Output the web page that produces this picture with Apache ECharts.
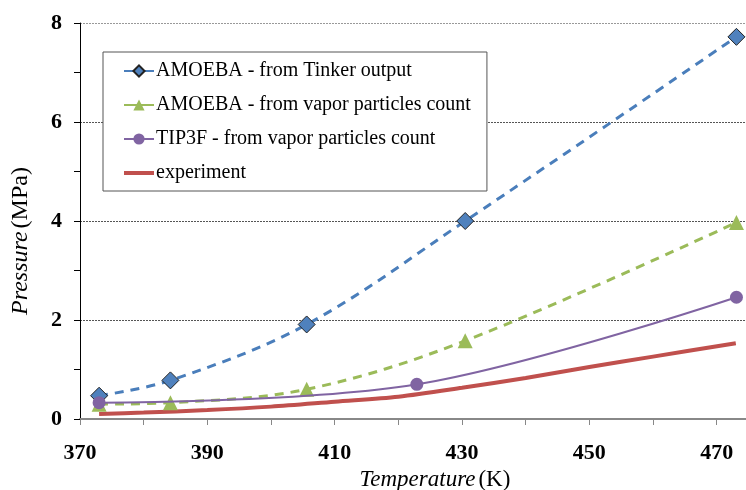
<!DOCTYPE html>
<html>
<head>
<meta charset="utf-8">
<script src="https://cdn.jsdelivr.net/npm/echarts@6/dist/echarts.min.js"></script>
<style>
  html, body { margin: 0; padding: 0; background: #fff; }
  #chart { width: 746px; height: 490px; }
</style>
</head>
<body>
<div id="chart"></div>
<script>
// temperature (K) of the simulation points
const tAmoeba = [373, 384.2, 405.6, 430.5, 473.1];
const tTip3f = [373, 422.9, 473.1];
const tExp = [373, 380, 390, 400, 410, 420, 430, 440, 450, 460, 473];

// pressure (MPa)
const pTinker = [0.47, 0.78, 1.91, 4.0, 7.72];
const pAmoebaVapor = [0.3, 0.33, 0.6, 1.58, 3.97];
const pTip3fVapor = [0.33, 0.70, 2.46];
const pExp = [0.1, 0.13, 0.18, 0.25, 0.35, 0.45, 0.63, 0.83, 1.05, 1.26, 1.53];

const xLabels = [370, 390, 410, 430, 450, 470];
const yLabels = [0, 2, 4, 6, 8];

function pairs(xs, ys) {
  return xs.map((x, i) => [x, ys[i]]);
}

const serif = "'Liberation Serif', 'Times New Roman', serif";
const chart = echarts.init(document.getElementById('chart'));

chart.setOption({
  animation: false,
  backgroundColor: '#fff',
  textStyle: { fontFamily: serif, color: '#000' },
  grid: { left: 80, right: 0, top: 23, bottom: 71, outerBoundsMode: 'none', containLabel: false },
  legend: {
    orient: 'vertical',
    left: 103,
    top: 52,
    width: 384,
    padding: [9, 16, 8, 20],
    itemWidth: 30,
    itemHeight: 14,
    itemGap: 14,
    backgroundColor: '#fff',
    borderColor: '#555',
    borderWidth: 1,
    lineStyle: { type: 'solid' },
    textStyle: { fontFamily: serif, fontSize: 20, lineHeight: 20, color: '#000', padding: [0, 0, 0, -3] },
    data: [
      'AMOEBA - from Tinker output',
      'AMOEBA - from vapor particles count',
      'TIP3F - from vapor particles count',
      { name: 'experiment', icon: 'path://M0,0 L30,0 L30,4 L0,4 Z' }
    ]
  },
  xAxis: {
    type: 'value',
    min: 370,
    max: 474.6,
    interval: 10,
    name: '{i|Temperature} {n|(K)}',
    nameLocation: 'middle',
    nameGap: 48,
    nameTextStyle: {
      padding: [0, 0, 0, 44],
      rich: {
        i: { fontFamily: serif, fontSize: 23, fontStyle: 'italic', color: '#000' },
        n: { fontFamily: serif, fontSize: 23, color: '#000' }
      }
    },
    axisLine: { lineStyle: { color: '#888', width: 2 } },
    axisTick: { length: 6, lineStyle: { color: '#888', width: 1 } },
    axisLabel: {
      showMaxLabel: false,
      margin: 23,
      fontFamily: serif,
      fontSize: 22,
      fontWeight: 'bold',
      color: '#000',
      formatter: v => (xLabels.indexOf(v) >= 0 ? String(v) : '')
    },
    splitLine: { show: false }
  },
  yAxis: [
    {
      type: 'value',
      min: 0,
      max: 8,
      interval: 1,
      name: '{i|Pressure} {n|(MPa)}',
      nameLocation: 'middle',
      nameGap: 47,
      nameRotate: 90,
      nameTextStyle: {
        padding: [0, 0, 0, -40],
        rich: {
          i: { fontFamily: serif, fontSize: 24, fontStyle: 'italic', color: '#000' },
          n: { fontFamily: serif, fontSize: 24, color: '#000' }
        }
      },
      axisLine: { show: true, lineStyle: { color: '#000', width: 1 } },
      axisTick: { show: true, length: 6, lineStyle: { color: '#000' } },
      axisLabel: {
        margin: 18,
        fontFamily: serif,
        fontSize: 22,
        fontWeight: 'bold',
        color: '#000',
        formatter: v => (yLabels.indexOf(v) >= 0 ? String(v) : '')
      },
      splitLine: { show: false }
    },
    {
      // only the dotted grid lines every 2 MPa
      type: 'value',
      position: 'left',
      min: 0,
      max: 8,
      interval: 2,
      axisLine: { show: false },
      axisTick: { show: false },
      axisLabel: { show: false },
      splitLine: {
        show: true,
        lineStyle: { color: ['#555', '#555', '#555', '#555', '#999'], type: [2, 1], width: 1 }
      }
    }
  ],
  series: [
    {
      name: 'AMOEBA - from Tinker output',
      type: 'line',
      smooth: 0.35,
      data: pairs(tAmoeba, pTinker),
      symbol: 'diamond',
      symbolSize: 17,
      itemStyle: { color: '#4F81BD', borderColor: '#222', borderWidth: 1 },
      lineStyle: { color: '#4A7EBB', width: 3, type: [9, 7] },
      z: 4
    },
    {
      name: 'AMOEBA - from vapor particles count',
      type: 'line',
      smooth: 0.35,
      data: pairs(tAmoeba, pAmoebaVapor),
      symbol: 'triangle',
      symbolSize: 15,
      itemStyle: { color: '#9BBB59' },
      lineStyle: { color: '#9BBB59', width: 3, type: [9, 7] },
      z: 3
    },
    {
      name: 'TIP3F - from vapor particles count',
      type: 'line',
      smooth: 0.35,
      data: pairs(tTip3f, pTip3fVapor),
      symbol: 'circle',
      symbolSize: 13,
      itemStyle: { color: '#8064A2' },
      lineStyle: { color: '#8064A2', width: 2 },
      z: 5
    },
    {
      name: 'experiment',
      type: 'line',
      smooth: 0.3,
      data: pairs(tExp, pExp),
      symbol: 'none',
      itemStyle: { color: '#C0504D' },
      lineStyle: { color: '#C0504D', width: 4 },
      z: 2
    }
  ]
});
</script>
</body>
</html>
